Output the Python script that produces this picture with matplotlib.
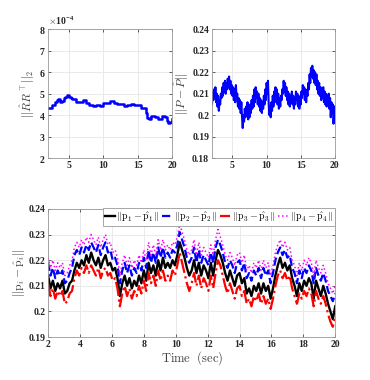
import numpy as np
import matplotlib
matplotlib.use("Agg")
import matplotlib.pyplot as plt
from matplotlib.ticker import FormatStrFormatter, ScalarFormatter

plt.rcParams['font.family'] = ['Liberation Serif', 'DejaVu Serif']
plt.rcParams['font.weight'] = 'bold'
plt.rcParams['mathtext.fontset'] = 'cm'

# ---- top-left: ||R R^T||_2 (x1e-4) ----
t_rr = [2.0, 2.5, 3.0, 3.3, 3.5, 3.8, 4.0, 4.3, 4.5, 4.8, 5.0, 5.3, 5.5, 6.0,
        6.5, 7.0, 7.5, 8.0, 8.5, 9.0, 9.5, 10.0, 10.5, 11.0, 11.5, 12.0,
        12.5, 13.0, 13.5, 14.0, 14.5, 15.0, 15.5, 16.0, 16.2, 16.4, 16.7,
        17.0, 17.5, 18.0, 18.5, 19.0, 19.2, 19.4, 19.7, 20.0]
rr_norm = [4.35e-4, 4.45e-4, 4.6e-4, 4.7e-4, 4.75e-4, 4.62e-4, 4.68e-4,
           4.8e-4, 4.85e-4, 4.95e-4, 4.85e-4, 4.78e-4, 4.75e-4, 4.62e-4,
           4.62e-4, 4.7e-4, 4.58e-4, 4.45e-4, 4.42e-4, 4.45e-4, 4.42e-4,
           4.55e-4, 4.55e-4, 4.65e-4, 4.55e-4, 4.52e-4, 4.5e-4, 4.42e-4,
           4.45e-4, 4.52e-4, 4.45e-4, 4.45e-4, 4.35e-4, 4.35e-4, 4.1e-4,
           3.85e-4, 3.8e-4, 3.97e-4, 3.9e-4, 3.8e-4, 3.97e-4, 3.92e-4,
           3.75e-4, 3.65e-4, 3.7e-4, 3.8e-4]

# ---- top-right: ||P - P_hat|| (0.1 s step) ----
t_p = [2.0 + 0.1 * i for i in range(181)]
p_err = [
    0.205, 0.211, 0.207, 0.212, 0.208, 0.213, 0.206, 0.210, 0.204, 0.209,
    0.202, 0.207, 0.205, 0.210, 0.208, 0.213, 0.209, 0.215, 0.211, 0.216,
    0.210, 0.215, 0.212, 0.217, 0.213, 0.218, 0.212, 0.216, 0.210, 0.214,
    0.209, 0.213, 0.207, 0.212, 0.206, 0.214, 0.208, 0.210, 0.204, 0.208,
    0.203, 0.207, 0.201, 0.206, 0.199, 0.194, 0.200, 0.197, 0.203, 0.199,
    0.204, 0.200, 0.206, 0.198, 0.203, 0.199, 0.205, 0.201, 0.207, 0.203,
    0.209, 0.204, 0.212, 0.206, 0.213, 0.208, 0.211, 0.205, 0.210, 0.204,
    0.208, 0.202, 0.207, 0.201, 0.206, 0.203, 0.209, 0.205, 0.212, 0.207,
    0.215, 0.210, 0.216, 0.206, 0.200, 0.204, 0.199, 0.206, 0.202, 0.209,
    0.204, 0.211, 0.206, 0.213, 0.208, 0.212, 0.205, 0.210, 0.203, 0.208,
    0.204, 0.209, 0.207, 0.212, 0.210, 0.216, 0.211, 0.215, 0.209, 0.213,
    0.207, 0.211, 0.205, 0.210, 0.204, 0.209, 0.206, 0.211, 0.205, 0.209,
    0.203, 0.208, 0.205, 0.211, 0.207, 0.210, 0.204, 0.209, 0.203, 0.208,
    0.205, 0.211, 0.208, 0.214, 0.210, 0.213, 0.207, 0.212, 0.206, 0.211,
    0.209, 0.215, 0.212, 0.219, 0.215, 0.222, 0.218, 0.223, 0.217, 0.221,
    0.215, 0.220, 0.214, 0.219, 0.212, 0.216, 0.210, 0.215, 0.209, 0.213,
    0.207, 0.212, 0.208, 0.213, 0.206, 0.211, 0.205, 0.210, 0.204, 0.209,
    0.206, 0.210, 0.203, 0.208, 0.199, 0.206, 0.201, 0.205, 0.196, 0.200,
    0.204]

# ---- bottom: per-point errors (0.15 s step) ----
t_pi = [2.0 + 0.15 * i for i in range(121)]
p1_err = [
    0.214, 0.209, 0.212, 0.208, 0.211, 0.209, 0.212, 0.207, 0.208, 0.211,
    0.212, 0.216, 0.219, 0.217, 0.220, 0.218, 0.222, 0.219, 0.223, 0.220,
    0.218, 0.221, 0.217, 0.220, 0.222, 0.218, 0.219, 0.216, 0.217, 0.213,
    0.206, 0.211, 0.214, 0.210, 0.213, 0.209, 0.212, 0.210, 0.214, 0.211,
    0.216, 0.212, 0.219, 0.215, 0.218, 0.214, 0.220, 0.216, 0.221, 0.217,
    0.219, 0.217, 0.220, 0.218, 0.222, 0.227, 0.224, 0.221, 0.217, 0.214,
    0.216, 0.220, 0.215, 0.219, 0.214, 0.218, 0.216, 0.213, 0.219, 0.214,
    0.220, 0.224, 0.222, 0.219, 0.215, 0.212, 0.216, 0.213, 0.210, 0.214,
    0.215, 0.211, 0.213, 0.207, 0.209, 0.206, 0.210, 0.208, 0.211, 0.207,
    0.211, 0.208, 0.210, 0.205, 0.209, 0.214, 0.218, 0.221, 0.217, 0.219,
    0.216, 0.218, 0.213, 0.210, 0.206, 0.211, 0.208, 0.212, 0.210, 0.213,
    0.211, 0.205, 0.212, 0.209, 0.206, 0.210, 0.207, 0.203, 0.200, 0.197,
    0.202]
p2_err = [
    0.219, 0.214, 0.217, 0.213, 0.216, 0.214, 0.216, 0.211, 0.212, 0.215,
    0.217, 0.222, 0.224, 0.222, 0.225, 0.223, 0.226, 0.224, 0.227, 0.225,
    0.223, 0.226, 0.222, 0.225, 0.227, 0.223, 0.224, 0.220, 0.221, 0.218,
    0.211, 0.216, 0.219, 0.215, 0.218, 0.214, 0.217, 0.215, 0.219, 0.216,
    0.221, 0.217, 0.224, 0.219, 0.223, 0.219, 0.225, 0.221, 0.225, 0.221,
    0.223, 0.221, 0.224, 0.223, 0.226, 0.231, 0.228, 0.225, 0.221, 0.219,
    0.221, 0.225, 0.219, 0.224, 0.219, 0.222, 0.220, 0.218, 0.223, 0.219,
    0.225, 0.228, 0.226, 0.223, 0.219, 0.217, 0.220, 0.218, 0.215, 0.219,
    0.220, 0.216, 0.219, 0.213, 0.215, 0.212, 0.216, 0.214, 0.217, 0.213,
    0.217, 0.214, 0.216, 0.211, 0.215, 0.220, 0.223, 0.225, 0.222, 0.224,
    0.221, 0.222, 0.217, 0.215, 0.211, 0.216, 0.213, 0.217, 0.215, 0.218,
    0.216, 0.211, 0.217, 0.214, 0.212, 0.215, 0.212, 0.208, 0.206, 0.204,
    0.207]
p3_err = [
    0.211, 0.206, 0.209, 0.205, 0.208, 0.206, 0.208, 0.203, 0.204, 0.207,
    0.208, 0.213, 0.216, 0.214, 0.217, 0.215, 0.218, 0.215, 0.218, 0.216,
    0.214, 0.217, 0.213, 0.216, 0.217, 0.214, 0.215, 0.212, 0.213, 0.209,
    0.202, 0.207, 0.210, 0.206, 0.209, 0.205, 0.208, 0.206, 0.210, 0.207,
    0.212, 0.208, 0.215, 0.211, 0.214, 0.210, 0.216, 0.212, 0.216, 0.212,
    0.214, 0.212, 0.216, 0.214, 0.218, 0.223, 0.219, 0.215, 0.211, 0.208,
    0.211, 0.215, 0.210, 0.214, 0.209, 0.213, 0.211, 0.208, 0.214, 0.209,
    0.215, 0.220, 0.218, 0.214, 0.210, 0.207, 0.211, 0.208, 0.205, 0.209,
    0.210, 0.206, 0.208, 0.203, 0.205, 0.202, 0.206, 0.204, 0.207, 0.203,
    0.206, 0.203, 0.205, 0.201, 0.205, 0.210, 0.214, 0.216, 0.213, 0.215,
    0.212, 0.214, 0.209, 0.206, 0.203, 0.207, 0.205, 0.208, 0.206, 0.209,
    0.207, 0.202, 0.208, 0.205, 0.203, 0.206, 0.203, 0.199, 0.196, 0.194,
    0.198]
p4_err = [
    0.221, 0.217, 0.220, 0.216, 0.219, 0.217, 0.219, 0.214, 0.215, 0.218,
    0.220, 0.225, 0.227, 0.225, 0.228, 0.226, 0.229, 0.227, 0.230, 0.228,
    0.226, 0.229, 0.225, 0.228, 0.230, 0.226, 0.227, 0.223, 0.224, 0.221,
    0.214, 0.219, 0.222, 0.218, 0.221, 0.217, 0.220, 0.218, 0.222, 0.219,
    0.224, 0.220, 0.227, 0.222, 0.226, 0.222, 0.228, 0.224, 0.228, 0.224,
    0.226, 0.224, 0.227, 0.226, 0.229, 0.234, 0.231, 0.228, 0.224, 0.222,
    0.224, 0.228, 0.222, 0.227, 0.222, 0.225, 0.223, 0.221, 0.226, 0.222,
    0.228, 0.232, 0.229, 0.226, 0.222, 0.220, 0.223, 0.221, 0.218, 0.222,
    0.223, 0.219, 0.222, 0.216, 0.218, 0.215, 0.219, 0.217, 0.220, 0.216,
    0.220, 0.217, 0.219, 0.214, 0.218, 0.223, 0.226, 0.228, 0.225, 0.227,
    0.224, 0.225, 0.220, 0.218, 0.214, 0.219, 0.216, 0.220, 0.218, 0.221,
    0.219, 0.214, 0.220, 0.217, 0.215, 0.218, 0.215, 0.211, 0.209, 0.207,
    0.210]

labels = [r'$||\mathrm{p}_1-\hat{\mathrm{p}}_1||$', r'$||\mathrm{p}_2-\hat{\mathrm{p}}_2||$',
          r'$||\mathrm{p}_3-\hat{\mathrm{p}}_3||$', r'$||\mathrm{p}_4-\hat{\mathrm{p}}_4||$']

TICK_COLOR = '#262626'


def style_axes(ax):
    ax.grid(True, color='#e6e6e6', linewidth=0.6)
    ax.set_axisbelow(True)
    ax.tick_params(direction='in', labelsize=7, colors=TICK_COLOR, length=2, width=0.5,
                   top=True, right=True, pad=2)
    for s in ax.spines.values():
        s.set_color('#999999')
        s.set_linewidth(0.6)
    for lbl in ax.get_xticklabels() + ax.get_yticklabels():
        lbl.set_fontweight('bold')


fig = plt.figure(figsize=(3.7, 3.8), dpi=100)

# top-left
ax1 = fig.add_axes([0.130, 0.584, 0.335, 0.339])
ax1.plot(t_rr, rr_norm, color='blue', linewidth=1.8, drawstyle='steps-post')
ax1.set_xlim(2, 20)
ax1.set_ylim(2e-4, 8e-4)
ax1.set_xticks([5, 10, 15, 20])
ax1.set_yticks([2e-4, 3e-4, 4e-4, 5e-4, 6e-4, 7e-4, 8e-4])
fmt = ScalarFormatter(useMathText=True)
fmt.set_powerlimits((-3, 3))
ax1.yaxis.set_major_formatter(fmt)
ax1.set_ylabel(r'$||\hat{R}R^{\top}||_2$', fontsize=8.5, labelpad=1, color='#404040')
style_axes(ax1)
ax1.yaxis.get_offset_text().set_fontsize(7)
ax1.yaxis.get_offset_text().set_color(TICK_COLOR)

# top-right
ax2 = fig.add_axes([0.573, 0.584, 0.332, 0.339])
ax2.plot(t_p, p_err, color='blue', linewidth=1.5)
ax2.set_xlim(2, 20)
ax2.set_ylim(0.18, 0.24)
ax2.set_xticks([5, 10, 15, 20])
ax2.set_yticks([0.18, 0.19, 0.20, 0.21, 0.22, 0.23, 0.24])
ax2.yaxis.set_major_formatter(FormatStrFormatter('%g'))
ax2.set_ylabel(r'$||P-\hat{P}||$', fontsize=8.5, labelpad=1, color='#404040')
style_axes(ax2)

# bottom
ax3 = fig.add_axes([0.130, 0.113, 0.776, 0.337])
ax3.plot(t_pi, p1_err, color='black', linewidth=1.7, linestyle='-', label=labels[0])
ax3.plot(t_pi, p2_err, color='blue', linewidth=1.6, linestyle='--', label=labels[1])
ax3.plot(t_pi, p3_err, color='red', linewidth=1.6, linestyle='-.', label=labels[2])
ax3.plot(t_pi, p4_err, color='magenta', linewidth=1.1, linestyle=':', label=labels[3])
ax3.set_xlim(2, 20)
ax3.set_ylim(0.19, 0.24)
ax3.set_xticks(np.arange(2, 21, 2))
ax3.set_yticks([0.19, 0.20, 0.21, 0.22, 0.23, 0.24])
ax3.yaxis.set_major_formatter(FormatStrFormatter('%g'))
ax3.set_ylabel(r'$||\mathrm{p}_i-\hat{\mathrm{p}}_i||$', fontsize=8.5, labelpad=1, color='#404040')
ax3.set_xlabel(r'$\mathrm{Time\ \ (sec)}$', fontsize=9, labelpad=0, color='#404040')
style_axes(ax3)
leg = ax3.legend(loc='upper right', bbox_to_anchor=(1.0, 1.01), ncol=4, fontsize=7.2,
                 frameon=True, fancybox=False, handlelength=1.0, handletextpad=0.15,
                 columnspacing=0.3, borderpad=0.2, borderaxespad=0.0, framealpha=1.0)
leg.get_frame().set_edgecolor('#999999')
leg.get_frame().set_linewidth(0.6)

fig.savefig('out.png', dpi=100)
